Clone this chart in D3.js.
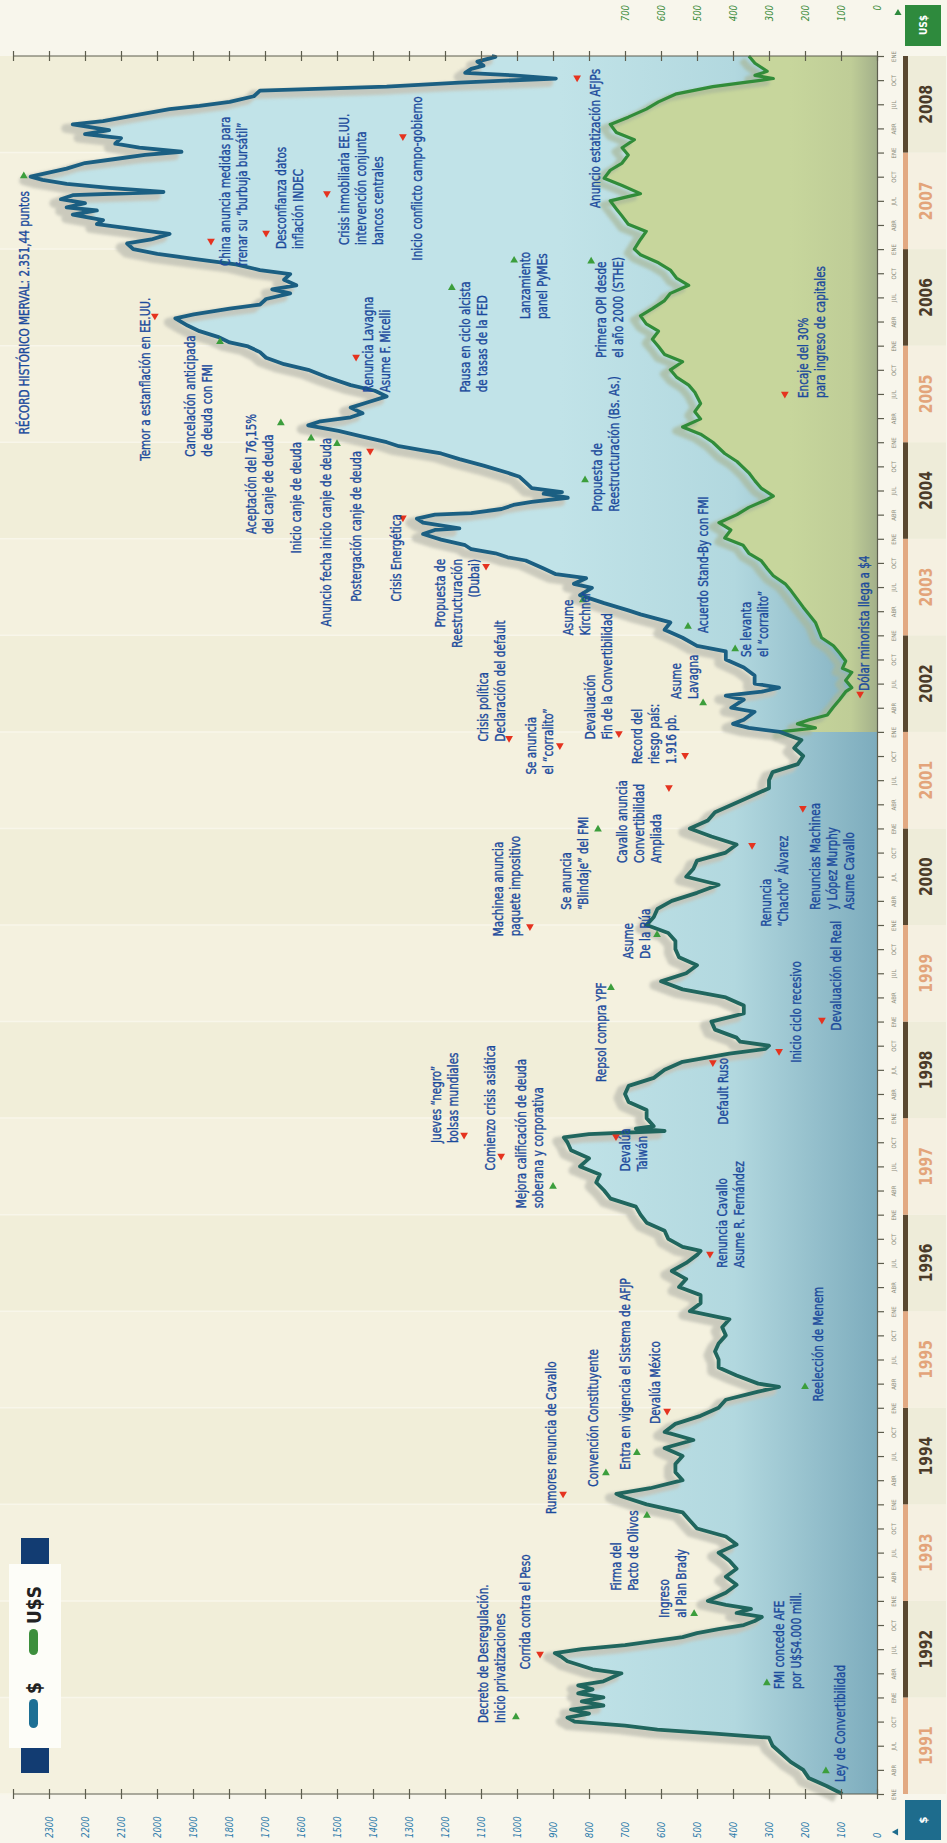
<!DOCTYPE html>
<html>
<head>
<meta charset="utf-8">
<script src="https://cdn.jsdelivr.net/npm/d3@7"></script>
<style>
  html, body { margin: 0; padding: 0; background: #f8f6ec; }
  svg { display: block; }
  text { font-family: "Liberation Sans Narrow", "DejaVu Sans Condensed", sans-serif; }
</style>
</head>
<body>
<svg id="chart" width="947" height="1843"></svg>
<script>
// MERVAL index, months counted from January 1991
const mervalMonths = [0,1,2,3,4,5,6,7,7.5,8,8.5,9,9.5,10,10.5,11,11.5,
  12,12.5,13,13.5,14,15,15.5,16,16.5,17,17.5,18,18.5,19,19.5,20,20.5,21,21.5,22,22.5,23,23.5,
  24,25,26,27,28,29,30,31,32,33,34,35,
  36,37,37.3,38,39,40,41,42,43,44,45,46,47,
  48,49,50,50.6,51,52,53,54,55,56,57,58,59,
  60,61,62,63,64,65,66,67,67.5,68,69,70,71,
  72,73,74,75,76,77,78,79,80,81,81.6,82,82.4,82.7,83,
  84,85,86,87,88,89,90,91,92,92.6,93,93.5,94,95,
  96,97,98,99,100,101,102,103,104,105,106,107,
  108,109,110,111,112,113,114,115,116,117,118,119,
  120,121,122,123,124,125,126,127,128,129,130,131,
  132,132.5,133,133.5,134.5,135,136,136.5,137,137.5,138,139,140,141,142,142.7,143.7,
  144.7,145.6,146.6,147.1,148,149,149.9,150.4,151.1,151.6,152.3,153.3,153.7,154.2,154.7,155.2,155.9,
  156.6,157.1,157.3,158,158.5,159,159.2,159.7,160.2,160.6,161.1,161.6,161.8,162.3,163,163.7,164.2,165.1,165.9,166.6,167,167.5,
  168,168.7,169.4,170.1,170.6,171.1,171.6,172.3,173,173.7,174.4,175.1,176.1,177,177.7,178.5,179.2,179.9,
  180.4,181.1,181.8,182.5,183.4,183.9,184.6,185.1,185.8,186.5,187,187.5,188.2,188.9,189.4,190.1,190.8,191.4,
  192,192.7,193.2,193.9,194.6,195.1,195.6,196.3,196.8,197.2,197.7,198.2,198.7,199.1,199.6,200.1,200.6,201,201.5,202,202.7,203.2,203.7,
  204.1,204.6,205.1,205.8,206.3,206.8,207.5,207.9,208.6,209.4,209.8,210.3,211,211.7,212.2,212.7,213.2,213.6,213.9,214.4,214.8,215.3,215.9,216];
const mervalPesos = [96,140,190,205,240,265,290,300,450,610,700,840,860,800,850,760,820,
  760,830,790,830,760,710,790,825,860,875,895,820,700,620,540,500,440,370,340,320,390,350,420,
  470,420,390,420,390,410,440,390,420,500,520,540,
  640,710,724,630,540,560,560,540,590,510,590,560,490,
  440,420,330,272,330,390,440,440,450,440,420,430,410,
  520,490,490,550,530,570,530,500,490,540,580,590,640,
  657,670,740,758,780,770,825,800,850,860,870,800,590,670,620,
  640,640,690,700,690,620,590,540,410,310,300,380,390,450,
  460,370,370,420,540,600,530,500,550,560,560,580,
  640,620,610,570,500,440,530,510,500,420,390,460,
  520,470,450,400,350,300,300,290,220,205,230,210,
  270,356,400,370,340,405,370,420,320,272,340,340,370,420,420,500,540,
  590,574,657,691,758,825,792,842,808,892,926,976,1026,1060,1127,1144,1211,
  1261,1228,1160,1261,1278,1228,1127,1043,1010,959,859,926,875,959,976,993,1026,1093,1160,1211,1261,1328,
  1362,1429,1496,1580,1546,1462,1429,1462,1412,1362,1395,1462,1529,1580,1647,1697,1714,1747,
  1798,1831,1882,1915,1949,1898,1798,1714,1697,1630,1680,1613,1647,1630,1714,1781,1898,1999,
  2066,2083,2016,1965,2083,2167,2150,2234,2167,2251,2200,2267,2234,1982,2133,2251,2318,2351,2301,2251,2200,2116,2033,
  1932,2049,2116,2100,2200,2133,2234,2150,2066,1965,1882,1798,1731,1714,1362,1160,892,1010,1144,1127,1093,1110,1060,1070];

// MERVAL in dollars once the peso is devalued (same as pesos until January 2002)
const dollarMonths = [132,132.5,133,133.5,134.1,135.1,136,137,137.5,138.4,139.4,139.9,140.8,141.8,142.7,143.7,
  145.6,147.5,149.5,150.4,151.4,152.3,153.3,154.2,155.2,156.1,157.1,158,159,159.9,160.9,161.3,162.3,163.2,164.2,165.6,166.6,
  168,169,169.9,170.9,171.8,172.8,174.2,175.1,176.1,177,178,178.9,179.9,180.8,181.8,182.7,183.7,184.6,185.6,186.5,187.5,188.4,189.4,190.3,191.3,
  192,193.2,194.2,195.1,196.1,197,198,198.9,199.9,200.8,201.8,202.7,203.7,204.6,205.6,206.5,207.5,208.4,209.4,210.3,211.3,212.2,212.7,213.2,213.6,214.1,214.6,215.1,216];
const mervalDollars = [270,171,221,188,138,121,104,87,70,87,70,96,87,104,121,154,
  171,205,238,255,288,305,322,356,372,423,406,439,389,356,305,288,322,339,356,389,423,
  456,490,540,490,506,490,506,523,557,574,540,590,607,624,607,641,657,624,590,574,523,557,574,607,657,
  674,657,641,691,708,724,741,657,708,758,741,708,691,708,674,724,741,691,641,607,557,456,372,288,339,305,322,339,356];

const years = d3.range(1991, 2009);
const pesoTicks = d3.range(0, 2500, 100);
const dollarLabels = d3.range(0, 800, 100);
const monthNames = ["ENE", "ABR", "JUL", "OCT"];

// Events: marker at (month m, value v); text column starts at (tm, tv)
const events = [
  {m: 2.86, v: 142, up: true, tm: 1.5, tv: 103, a: "start", lines: ["Ley de Convertibilidad"]},
  {m: 13.8, v: 306, up: true, tm: 13.05, tv: 272, a: "start", lines: ["FMI concede AFE", "por U$S4.000 mill."]},
  {m: 9.57, v: 1003, up: true, tm: 8.83, tv: 1094, a: "start", lines: ["Decreto de Desregulación.", "Inicio privatizaciones"]},
  {m: 17.4, v: 936, up: false, tm: 15.5, tv: 978, a: "start", lines: ["Corrida contra el Peso"]},
  {m: 22.4, v: 508, up: true, tm: 21.9, tv: 592, a: "start", lines: ["Ingreso", "al Plan Brady"]},
  {m: 34.6, v: 639, up: true, tm: 25.3, tv: 725, a: "start", lines: ["Firma del", "Pacto de Olivos"]},
  {m: 37.3, v: 872, up: false, tm: 34.8, tv: 906, a: "start", lines: ["Rumores renuncia de Cavallo"]},
  {m: 39.9, v: 753, up: true, tm: 38.2, tv: 789, a: "start", lines: ["Convención Constituyente"]},
  {m: 42.4, v: 667, up: true, tm: 40.3, tv: 700, a: "start", lines: ["Entra en vigencia el Sistema de AFJP"]},
  {m: 47.6, v: 583, up: false, tm: 46.0, tv: 617, a: "start", lines: ["Devalúa México"]},
  {m: 50.6, v: 200, up: true, tm: 48.8, tv: 164, a: "start", lines: ["Reelección de Menem"]},
  {m: 67.1, v: 464, up: false, tm: 65.4, tv: 431, a: "start", lines: ["Renuncia Cavallo", "Asume R. Fernández"]},
  {m: 75.5, v: 900, up: true, tm: 72.8, tv: 989, a: "start", lines: ["Mejora calificación de deuda", "soberana y corporativa"]},
  {m: 79.3, v: 1044, up: false, tm: 77.5, tv: 1075, a: "start", lines: ["Comienzo crisis asiática"]},
  {m: 81.9, v: 1147, up: false, tm: 80.9, tv: 1225, a: "start", lines: ["Jueves \u201cnegro\u201d", "bolsas mundiales"]},
  {m: 81.7, v: 725, up: false, tm: 77.4, tv: 700, a: "start", lines: ["Devalúa", "Taiwán"]},
  {m: 100.2, v: 739, up: true, tm: 88.5, tv: 767, a: "start", lines: ["Repsol compra YPF"]},
  {m: 90.9, v: 456, up: false, tm: 83.2, tv: 428, a: "start", lines: ["Default Ruso"]},
  {m: 92.3, v: 272, up: false, tm: 90.9, tv: 225, a: "start", lines: ["Inicio ciclo recesivo"]},
  {m: 96.2, v: 153, up: false, tm: 94.9, tv: 114, a: "start", lines: ["Devaluación del Real"]},
  {m: 106.8, v: 611, up: true, tm: 103.8, tv: 692, a: "start", lines: ["Asume", "De la Rúa"]},
  {m: 107.8, v: 964, up: false, tm: 106.6, tv: 1053, a: "start", lines: ["Machinea anuncia", "paquete impositivo"]},
  {m: 119.9, v: 775, up: true, tm: 109.9, tv: 864, a: "start", lines: ["Se anuncia", "\u201cBlindaje\u201d del FMI"]},
  {m: 125.1, v: 578, up: false, tm: 115.7, tv: 708, a: "start", lines: ["Cavallo anuncia", "Convertibilidad", "Ampliada"]},
  {m: 117.9, v: 347, up: false, tm: 107.8, tv: 308, a: "start", lines: ["Renuncia", "\u201cChacho\u201d Álvarez"]},
  {m: 122.5, v: 206, up: false, tm: 109.9, tv: 172, a: "start", lines: ["Renuncias Machinea", "y López Murphy", "Asume Cavallo"]},
  {m: 131.2, v: 1022, up: false, tm: 130.8, tv: 1094, a: "start", lines: ["Crisis política", "Declaración del default"]},
  {m: 130.3, v: 881, up: false, tm: 126.7, tv: 961, a: "start", lines: ["Se anuncia", "el \u201ccorralito\u201d"]},
  {m: 131.8, v: 717, up: false, tm: 131.1, tv: 797, a: "start", lines: ["Devaluación", "Fin de la Convertibilidad"]},
  {m: 129.1, v: 533, up: false, tm: 128.0, tv: 667, a: "start", lines: ["Record del", "riesgo país:", "1.916 pb."]},
  {m: 135.6, v: 483, up: true, tm: 136.1, tv: 558, a: "start", lines: ["Asume", "Lavagna"]},
  {m: 136.7, v: 47, up: false, tm: 137.1, tv: 36, a: "start", lines: ["Dólar minorista llega a $4"]},
  {m: 142.3, v: 394, up: true, tm: 141.3, tv: 364, a: "start", lines: ["Se levanta", "el \u201ccorralito\u201d"]},
  {m: 145.1, v: 525, up: true, tm: 144.3, tv: 483, a: "start", lines: ["Acuerdo Stand-By con FMI"]},
  {m: 148.4, v: 817, up: true, tm: 144.0, tv: 858, a: "start", lines: ["Asume", "Kirchner"]},
  {m: 152.6, v: 1086, up: false, tm: 153.5, tv: 1214, a: "end", lines: ["Propuesta de", "Reestructuración", "(Dubai)"]},
  {m: 158.6, v: 1317, up: false, tm: 148.2, tv: 1336, a: "start", lines: ["Crisis Energética"]},
  {m: 166.9, v: 1408, up: false, tm: 148.2, tv: 1447, a: "start", lines: ["Postergación canje de deuda"]},
  {m: 167.8, v: 1500, up: true, tm: 145.1, tv: 1531, a: "start", lines: ["Anuncio fecha inicio canje de deuda"]},
  {m: 168.5, v: 1572, up: true, tm: 154.2, tv: 1614, a: "start", lines: ["Inicio canje de deuda"]},
  {m: 170.4, v: 1656, up: true, tm: 156.6, tv: 1739, a: "start", lines: ["Aceptación del 76,15%", "del canje de deuda"]},
  {m: 163.3, v: 811, up: true, tm: 159.4, tv: 778, a: "start", lines: ["Propuesta de", "Reestructuración (Bs. As.)"]},
  {m: 174.0, v: 256, up: false, tm: 173.5, tv: 206, a: "start", lines: ["Encaje del 30%", "para ingreso de capitales"]},
  {m: 178.6, v: 1447, up: false, tm: 174.2, tv: 1414, a: "start", lines: ["Renuncia Lavagna", "Asume F. Micelli"]},
  {m: 180.5, v: 1825, up: true, tm: 166.2, tv: 1908, a: "start", lines: ["Cancelación anticipada", "de deuda con FMI"]},
  {m: 183.7, v: 2006, up: false, tm: 165.7, tv: 2033, a: "start", lines: ["Temor a estanflación en EE.UU."]},
  {m: 187.2, v: 1181, up: true, tm: 174.2, tv: 1145, a: "start", lines: ["Pausa en ciclo alcista", "de tasas de la FED"]},
  {m: 190.6, v: 1008, up: true, tm: 183.3, tv: 978, a: "start", lines: ["Lanzamiento", "panel PyMEs"]},
  {m: 190.5, v: 794, up: true, tm: 178.5, tv: 767, a: "start", lines: ["Primera OPI desde", "el año 2000 (STHE)"]},
  {m: 201.1, v: 2370, up: true, tm: 169.0, tv: 2370, a: "start", lines: ["RÉCORD HISTÓRICO MERVAL: 2.351,44 puntos"]},
  {m: 193.0, v: 1850, up: false, tm: 189.9, tv: 1811, a: "start", lines: ["China anuncia medidas para", "frenar su \u201cburbuja bursátil\u201d"]},
  {m: 194.0, v: 1697, up: false, tm: 192.0, tv: 1656, a: "start", lines: ["Desconfianza datos", "inflación INDEC"]},
  {m: 198.9, v: 1528, up: false, tm: 192.5, tv: 1481, a: "start", lines: ["Crisis inmobiliaria EE.UU.", "intervención conjunta", "bancos centrales"]},
  {m: 206.0, v: 1317, up: false, tm: 190.6, tv: 1278, a: "start", lines: ["Inicio conflicto campo-gobierno"]},
  {m: 213.3, v: 833, up: false, tm: 197.1, tv: 783, a: "start", lines: ["Anuncio estatización AFJPs"]}
];

const svg = d3.select("#chart");
const defs = svg.append("defs");

// value runs right-to-left, time runs bottom-to-top
const x = d3.scaleLinear().domain([0, 2300]).range([877, 49]);
const xUsd = d3.scaleLinear().domain([0, 700]).range([x(0), x(700)]);
const y = d3.scaleLinear().domain([0, 216]).range([1794, 56]);

const merval = mervalMonths.map((m, i) => ({m, v: mervalPesos[i]}));
const dollars = dollarMonths.map((m, i) => ({m, v: mervalDollars[i]}));

// squeeze factor for the condensed lettering
const narrow = 0.86;

// gradients
const gBlue = defs.append("linearGradient").attr("id", "blueFill")
  .attr("gradientUnits", "userSpaceOnUse").attr("x1", 560).attr("x2", x(0)).attr("y1", 0).attr("y2", 0);
gBlue.append("stop").attr("offset", 0).attr("stop-color", "#c1e3e8");
gBlue.append("stop").attr("offset", 0.55).attr("stop-color", "#b2d8df");
gBlue.append("stop").attr("offset", 1).attr("stop-color", "#7dacbd");

const gGreen = defs.append("linearGradient").attr("id", "greenFill")
  .attr("gradientUnits", "userSpaceOnUse").attr("x1", 790).attr("x2", x(0)).attr("y1", 0).attr("y2", 0);
gGreen.append("stop").attr("offset", 0).attr("stop-color", "#c7d69c");
gGreen.append("stop").attr("offset", 0.7).attr("stop-color", "#bfcd97");
gGreen.append("stop").attr("offset", 1).attr("stop-color", "#a3b08a");

const gLine = defs.append("linearGradient").attr("id", "lineStroke")
  .attr("gradientUnits", "userSpaceOnUse").attr("x1", 0).attr("x2", 0)
  .attr("y1", y(132)).attr("y2", y(131.6));
gLine.append("stop").attr("offset", 0).attr("stop-color", "#1b5f82");
gLine.append("stop").attr("offset", 1).attr("stop-color", "#20665e");

const blur = defs.append("filter").attr("id", "soft").attr("x", "-10%").attr("y", "-10%").attr("width", "120%").attr("height", "120%");
blur.append("feGaussianBlur").attr("stdDeviation", 1.8);

// plot background with yearly bands
svg.append("rect").attr("x", 0).attr("y", y(216)).attr("width", x(0)).attr("height", y(0) - y(216)).attr("fill", "#f3f0dc");
svg.append("g").selectAll("rect").data(years).join("rect")
  .attr("x", 0).attr("width", x(0))
  .attr("y", d => y((d - 1990) * 12)).attr("height", d => y((d - 1991) * 12) - y((d - 1990) * 12))
  .attr("fill", d => d % 2 ? "#f4f1df" : "#f1eed9");
svg.append("g").selectAll("line").data(years).join("line")
  .attr("x1", 0).attr("x2", x(0)).attr("y1", d => y((d - 1991) * 12)).attr("y2", d => y((d - 1991) * 12))
  .attr("stroke", "#f8f6ea").attr("stroke-width", 1.5);

// areas
const area = d3.area().y(d => y(d.m)).x0(x(0)).x1(d => x(d.v));
svg.append("path").datum(merval).attr("d", area).attr("fill", "url(#blueFill)");
svg.append("path").datum(dollars).attr("d", area).attr("fill", "url(#greenFill)");

// soft shadows of both lines
const line = d3.line().y(d => y(d.m)).x(d => x(d.v));
svg.append("path").datum(merval).attr("d", line).attr("fill", "none")
  .attr("stroke", "#c4c4b8").attr("stroke-width", 9).attr("stroke-linejoin", "round")
  .attr("opacity", 0.85).attr("transform", "translate(-7,4)").attr("filter", "url(#soft)");
svg.append("path").datum(dollars).attr("d", line).attr("fill", "none")
  .attr("stroke", "#a9b89a").attr("stroke-width", 7).attr("stroke-linejoin", "round")
  .attr("opacity", 0.7).attr("transform", "translate(-7,4)").attr("filter", "url(#soft)");

// lines
svg.append("path").datum(dollars).attr("d", line).attr("fill", "none")
  .attr("stroke", "#318c39").attr("stroke-width", 3.2).attr("stroke-linejoin", "round");
svg.append("path").datum(merval).attr("d", line).attr("fill", "none")
  .attr("stroke", "url(#lineStroke)").attr("stroke-width", 3.8).attr("stroke-linejoin", "round");

// value axes (pesos at the bottom, dollars at the top, same unit length)
const axisColor = "#5d5d4e";
const bottomAxis = svg.append("g").attr("transform", `translate(0,${y(0)})`)
  .call(d3.axisBottom(x).tickValues(pesoTicks).tickSize(5).tickSizeOuter(0).tickFormat(d => d <= 2300 ? d : ""));
bottomAxis.select(".domain").attr("d", `M${x(2400)},0H${x(0)}`).attr("stroke", axisColor).attr("stroke-width", 1.2);
bottomAxis.selectAll(".tick line").attr("y1", -5).attr("y2", 5).attr("stroke", axisColor).attr("stroke-width", 1.2);
bottomAxis.selectAll(".tick text")
  .attr("transform", `translate(0,44) rotate(-90) scale(${narrow},1)`).attr("x", 0).attr("y", 0).attr("dy", "0.35em")
  .attr("text-anchor", "start").attr("fill", "#2c7bab").attr("font-size", 11).attr("font-style", "italic");

const topAxis = svg.append("g").attr("transform", `translate(0,${y(216)})`)
  .call(d3.axisTop(xUsd).tickValues(pesoTicks).tickSize(5).tickSizeOuter(0).tickFormat(d => dollarLabels.includes(d) ? d : ""));
topAxis.select(".domain").attr("d", `M${x(2400)},0H${x(0)}`).attr("stroke", axisColor).attr("stroke-width", 1.2);
topAxis.selectAll(".tick line").attr("y1", -5).attr("y2", 5).attr("stroke", axisColor).attr("stroke-width", 1.2);
topAxis.selectAll(".tick text")
  .attr("transform", `translate(0,-51) rotate(-90) scale(${narrow},1)`).attr("x", 0).attr("y", 0).attr("dy", "0.35em")
  .attr("text-anchor", "end").attr("fill", "#3b8c3b").attr("font-size", 11).attr("font-style", "italic");

// time axis on the right
const quarterTicks = d3.range(0, 217, 3);
const timeAxis = svg.append("g").attr("transform", `translate(${x(0)},0)`)
  .call(d3.axisRight(y).tickValues(quarterTicks).tickSize(7).tickSizeOuter(0)
    .tickFormat(d => monthNames[(d / 3) % 4]));
timeAxis.select(".domain").attr("stroke", axisColor).attr("stroke-width", 1.2);
timeAxis.selectAll(".tick line").attr("stroke", axisColor).attr("stroke-width", 1.2);
timeAxis.selectAll(".tick text")
  .attr("transform", "translate(17,0) rotate(-90)").attr("x", 0).attr("dy", "0.35em")
  .attr("text-anchor", "middle").attr("fill", "#8a8a7a").attr("font-size", 6);

// year column
const yc = svg.append("g");
yc.selectAll("rect.box").data(years).join("rect").attr("class", "box")
  .attr("x", 908).attr("width", 38)
  .attr("y", d => y((d - 1990) * 12)).attr("height", d => y((d - 1991) * 12) - y((d - 1990) * 12))
  .attr("fill", d => d % 2 ? "#f5f0e1" : "#eeecd9");
yc.selectAll("rect.stripe").data(years).join("rect").attr("class", "stripe")
  .attr("x", 903).attr("width", 5)
  .attr("y", d => y((d - 1990) * 12)).attr("height", d => y((d - 1991) * 12) - y((d - 1990) * 12))
  .attr("fill", d => d % 2 ? "#e2a982" : "#5a4830");
yc.selectAll("text").data(years).join("text")
  .attr("transform", d => `translate(926,${y((d - 1991) * 12 + 6)}) rotate(-90) scale(${narrow},1)`)
  .attr("dy", "0.35em").attr("text-anchor", "middle")
  .attr("font-size", 18).attr("font-weight", "bold")
  .attr("fill", d => d % 2 ? "#e3a47a" : "#4b3b29")
  .text(d => d);

// currency boxes
svg.append("rect").attr("x", 905).attr("y", 5).attr("width", 36).attr("height", 41).attr("fill", "#2e8a3d");
svg.append("text").attr("transform", "translate(923,25) rotate(-90)").attr("dy", "0.35em")
  .attr("text-anchor", "middle").attr("fill", "#fff").attr("font-size", 10).attr("font-weight", "bold").text("US$");
svg.append("path").attr("d", d3.symbol(d3.symbolTriangle, 22)()).attr("transform", "translate(898,13)").attr("fill", "#2e8a3d");
svg.append("rect").attr("x", 905).attr("y", 1800).attr("width", 36).attr("height", 40).attr("fill", "#1e6c8d");
svg.append("text").attr("transform", "translate(923,1820) rotate(-90)").attr("dy", "0.35em")
  .attr("text-anchor", "middle").attr("fill", "#fff").attr("font-size", 11).attr("font-weight", "bold").text("$");
svg.append("path").attr("d", d3.symbol(d3.symbolTriangle, 22)()).attr("transform", "translate(896,1832) rotate(-90)").attr("fill", "#1e6c8d");

// event markers and texts
const ev = svg.append("g");
ev.selectAll("path").data(events).join("path")
  .attr("d", d3.symbol(d3.symbolTriangle, 26)())
  .attr("transform", d => `translate(${x(d.v)},${y(d.m)}) rotate(${d.up ? 0 : 180})`)
  .attr("fill", d => d.up ? "#3c9e3c" : "#e5331f");
const evText = ev.selectAll("g").data(events).join("g")
  .attr("transform", d => `translate(${x(d.tv)},${y(d.tm)}) rotate(-90) scale(${narrow},1)`);
evText.each(function (d) {
  d3.select(this).selectAll("text").data(d.lines).join("text")
    .attr("x", 0).attr("y", (l, i) => i * 17).attr("dy", "0.35em")
    .attr("text-anchor", d.a).attr("font-size", 13.5).attr("fill", "#1b4a9c")
    .attr("stroke", "#1b4a9c").attr("stroke-width", 0.35)
    .text(l => l);
});

// legend
const lg = svg.append("g");
lg.append("rect").attr("x", 9).attr("y", 1564).attr("width", 52).attr("height", 184).attr("fill", "#fdfdf8");
lg.append("rect").attr("x", 21).attr("y", 1538).attr("width", 28).attr("height", 26).attr("fill", "#123c72");
lg.append("rect").attr("x", 21).attr("y", 1748).attr("width", 28).attr("height", 25).attr("fill", "#123c72");
lg.append("rect").attr("x", 29).attr("y", 1629).attr("width", 9).attr("height", 26).attr("rx", 4.5).attr("fill", "#3d8f3d");
lg.append("rect").attr("x", 29).attr("y", 1699).attr("width", 9).attr("height", 29).attr("rx", 4.5).attr("fill", "#1d6f94");
lg.append("text").attr("transform", "translate(34,1605) rotate(-90)").attr("dy", "0.35em")
  .attr("text-anchor", "middle").attr("font-size", 19).attr("font-weight", "bold").attr("fill", "#222").text("U$S");
lg.append("text").attr("transform", "translate(34,1688) rotate(-90)").attr("dy", "0.35em")
  .attr("text-anchor", "middle").attr("font-size", 19).attr("font-weight", "bold").attr("fill", "#222").text("$");
</script>
</body>
</html>
